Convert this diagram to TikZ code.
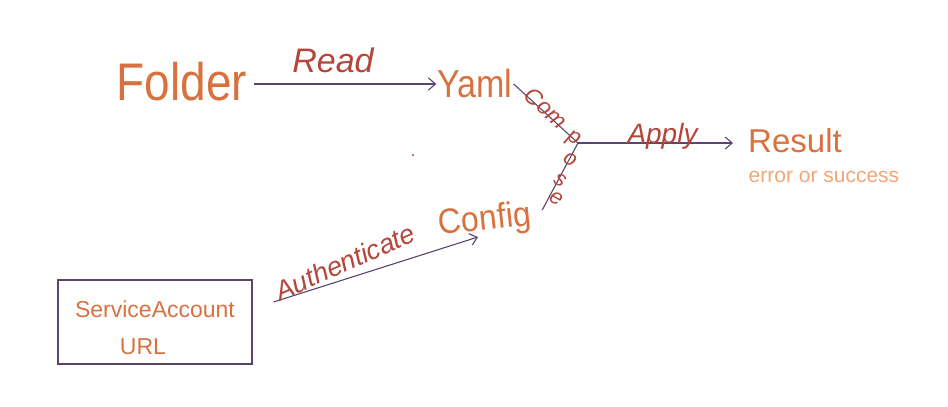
\documentclass[tikz,border=0pt]{standalone}
\usepackage{fontspec}
\setmainfont{Liberation Sans}
\usetikzlibrary{arrows.meta,calc}
\definecolor{inkorange}{HTML}{D9713F}
\definecolor{inkred}{HTML}{B5453A}
\definecolor{inkline}{HTML}{5A4470}
\definecolor{inklight}{HTML}{EFA77A}
\begin{document}
\begin{tikzpicture}[x=1pt,y=-1pt,
  word/.style={text=inkorange, inner sep=1pt},
  lbl/.style={text=inkred, inner sep=1pt, font=\itshape},
  conn/.style={draw=inkline, line width=1.1pt},
  arr/.style={conn, -{Straight Barb[length=7pt,width=12pt]}},
  cletter/.style={lbl, rotate=-30, inner sep=0pt, font=\fontsize{22}{22}\selectfont\itshape}]
\useasboundingbox (0,0) rectangle (948,407);
% nodes
\node[word, font=\fontsize{46}{46}\selectfont, yscale=1.15] (folder) at (182,82) {Folder};
\node[word, font=\fontsize{34}{34}\selectfont, yscale=1.15] (yaml) at (475,84) {Yaml};
\node[word, font=\fontsize{32}{32}\selectfont, rotate=6, yscale=1.1] (config) at (485,221) {Config};
\node[word, font=\fontsize{33}{33}\selectfont] (result) at (795,141) {Result};
\node[text=inklight, inner sep=1pt, font=\fontsize{21}{21}\selectfont] (err) at (824,177) {error or success};
\node[draw=inkline, line width=1.1pt, minimum width=194pt, minimum height=84pt] (box) at (155,322) {};
\node[word, font=\fontsize{23}{23}\selectfont] (sa) at (155,309) {ServiceAccount};
\node[word, font=\fontsize{23}{23}\selectfont] (url) at (143,347) {URL};
\coordinate (j) at (578,143);
% connectors
\draw[arr, shorten <=6pt] (folder.east |- yaml.west) -- (yaml.west)
  node[lbl, pos=0.45, above=10pt, font=\fontsize{34}{34}\selectfont\itshape] (read) {Read};
\draw[conn] (yaml.east) -- (j) -- ($(config.east)+(10,-6)$);
\draw[arr, shorten >=14pt] (j) -- (result.west |- j)
  node[lbl, midway, anchor=base, yshift=0pt, font=\fontsize{28}{28}\selectfont\itshape] (apply) {Apply};
\draw[arr] ($(box.east)+(21,-20)$) -- ($(config.center)+(-7,16)$);
\node[lbl, rotate=24, font=\fontsize{27}{27}\selectfont\itshape] (auth) at (345,262) {Authenticate};
% compose label
\node[lbl, rotate=-42, inner sep=0pt, font=\fontsize{23}{23}\selectfont\itshape] (ccom) at (546,108) {Com};
\node[cletter] (cp) at (573,139) {p};
\node[cletter] (co) at (570,160) {o};
\node[cletter] (cs) at (560,180) {s};
\node[cletter] (ce) at (556,199) {e};
% stray dot
\fill[inkred] (413,155) circle (1.2);
\end{tikzpicture}
\end{document}
